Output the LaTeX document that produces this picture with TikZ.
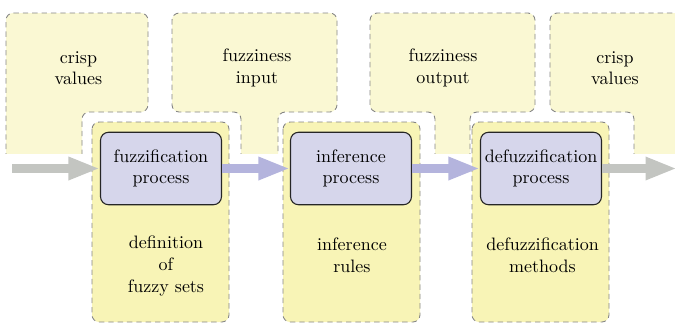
\documentclass[tikz,border=0pt]{standalone}
\usetikzlibrary{arrows.meta}
\definecolor{topfill}{HTML}{FAF8D3}
\definecolor{lowfill}{HTML}{F8F4B6}
\definecolor{procfill}{HTML}{D6D6EB}
\definecolor{dashcol}{HTML}{858585}
\definecolor{arrgray}{HTML}{C3C5C1}
\definecolor{arrblue}{HTML}{B4B4DD}
\begin{document}
\begin{tikzpicture}[x=0.5556pt,y=-0.5556pt,
  topbox/.style={fill=topfill, draw=dashcol, dash pattern=on 3pt off 2.2pt, rounded corners=4pt, line width=0.5pt},
  lowbox/.style={fill=lowfill, draw=dashcol, dash pattern=on 3pt off 2.2pt, rounded corners=4pt, line width=0.5pt},
  procbox/.style={rectangle, fill=procfill, draw=black!85, rounded corners=4.5pt, line width=0.6pt, minimum width=67.2pt, minimum height=40.3pt, align=center, inner sep=0pt},
  lbl/.style={align=center, inner sep=0pt},
  bigarrow/.style={line width=5.2pt, -{Triangle[length=17.5pt,width=11.8pt]}}
]
\useasboundingbox (0,0) rectangle (675,323);
% top row
\begin{scope}
\clip (0,0) rectangle (675,153);
\path[topbox] (6,175) -- (6,13) -- (148,13) -- (148,112) -- (82,112) -- (82,175) -- cycle;
\path[topbox] (241,175) -- (241,112) -- (172,112) -- (172,13) -- (337,13) -- (337,112) -- (278,112) -- (278,175) -- cycle;
\path[topbox] (435,175) -- (435,112) -- (370,112) -- (370,13) -- (535,13) -- (535,112) -- (470,112) -- (470,175) -- cycle;
\path[topbox] (634,175) -- (634,112) -- (550,112) -- (550,13) -- (700,13) -- (700,175) -- cycle;
\end{scope}
\node[lbl] (t1) at (78.5,68) {crisp\\values};
\node[lbl] (t2) at (257,68) {fuzziness\\input};
\node[lbl] (t3) at (443,68) {fuzziness\\output};
\node[lbl] (t4) at (615,68) {crisp\\values};
% lower boxes
\path[lowbox] (92,122) rectangle (229,322);
\path[lowbox] (283,122) rectangle (420,322);
\path[lowbox] (472,122) rectangle (609,322);
\node[lbl] (l1) at (166,266) {definition\\of\\fuzzy sets};
\node[lbl] (l2) at (352,255.5) {inference\\rules};
\node[lbl] (l3) at (542.5,255.5) {defuzzification\\methods};
% process boxes
\node[procbox] (p1) at (161,168.5) {fuzzification\\process};
\node[procbox] (p2) at (351,168.5) {inference\\process};
\node[procbox] (p3) at (541,168.5) {defuzzification\\process};
\coordinate (in) at (12,168.5);
\coordinate (out) at (677,168.5);
% arrows
\draw[bigarrow, arrgray] (in) -- (p1.west);
\draw[bigarrow, arrblue] (p1.east) -- (p2.west);
\draw[bigarrow, arrblue] (p2.east) -- (p3.west);
\draw[bigarrow, arrgray] (p3.east) -- (out);
\end{tikzpicture}
\end{document}
